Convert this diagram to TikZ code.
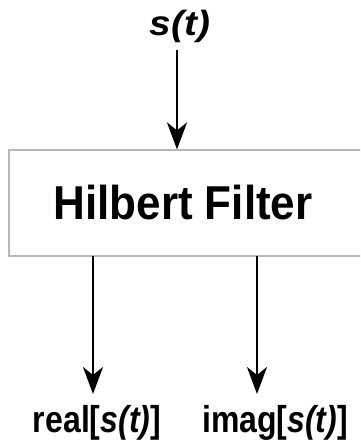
\documentclass[tikz,border=0pt]{standalone}
\usepackage{fontspec}
\setmainfont{Liberation Sans}
\usetikzlibrary{arrows.meta}
\tikzset{
  conn/.style={line width=2.6pt, -{Stealth[length=27pt,width=20pt,inset=8pt]}},
  filterbox/.style={draw=black!28, line width=1.2pt, minimum width=353pt, minimum height=106pt, inner sep=0pt},
  lbl/.style={inner sep=0pt, font=\fontsize{32}{36}\selectfont\bfseries}
}
\begin{document}
\begin{tikzpicture}[x=1pt,y=-1pt]
\useasboundingbox (0,0) rectangle (360,444);
\clip (0,0) rectangle (360,444);
\node[filterbox, font=\fontsize{44}{48}\selectfont\bfseries] (filt) at (185.5,203) {\raisebox{1pt}{\scalebox{1}[1.08]{Hilbert Filter}\hspace{5pt}}};
\node[inner sep=0pt, anchor=base, font=\fontsize{38}{40}\selectfont\bfseries\itshape] (in) at (180,36) {\scalebox{1.02}[0.92]{s(t)}};
\coordinate (start) at (177,50);
\draw[conn] (start) -- (start |- filt.north);
\node[lbl, anchor=base] (re) at (97,432) {\scalebox{1}[1.17]{real[\textit{s(t)}]}};
\node[lbl, anchor=base] (im) at (275,432) {\scalebox{1}[1.17]{imag[\textit{s(t)}]}};
\coordinate (o1) at (93,256);
\coordinate (o2) at (257,256);
\draw[conn] (o1) -- (93,394) coordinate (t1);
\draw[conn] (o2) -- (257,394) coordinate (t2);
\end{tikzpicture}
\end{document}
